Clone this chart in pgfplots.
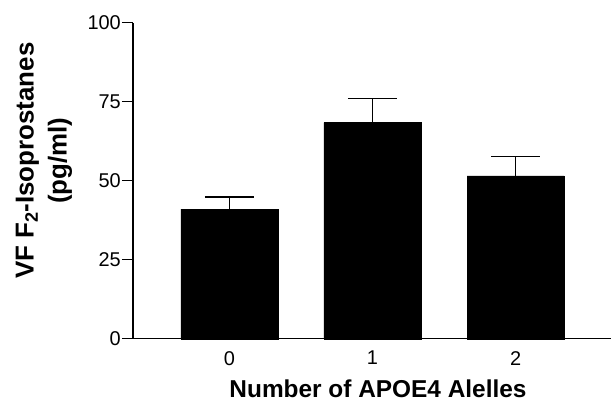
\documentclass[border=0pt]{standalone}
\usepackage{fontspec}
\setmainfont{Liberation Sans}
\usepackage{pgfplots}
\pgfplotsset{compat=1.18}
\begin{document}
\begin{tikzpicture}
\begin{axis}[
  at={(0,0)}, anchor=south west,
  scale only axis,
  width=478bp, height=316bp,
  xmin=-0.673, xmax=2.667,
  ymin=0, ymax=100,
  axis lines=left,
  axis line style={-, line width=1.3bp, black},
  ytick={0,25,50,75,100},
  xtick={0,1,2},
  tick align=outside,
  major tick length=11bp,
  x tick style={draw=none},
  y tick style={line width=1.3bp, black},
  yticklabel={\fontsize{20}{22}\selectfont\pgfmathprintnumber[assume math mode=true]{\tick}},
  xticklabel={\fontsize{20}{22}\selectfont\pgfmathprintnumber[assume math mode=true]{\tick}},
  yticklabel style={inner sep=1bp},
  xticklabel style={yshift=2bp},
  clip=false,
]
\addplot[ybar, bar width=97bp, fill=black, draw=black,
  error bars/.cd, y dir=plus, y explicit,
  error bar style={line width=1.5bp, black},
  error mark options={rotate=90, mark size=24.5bp, line width=1.5bp, black}]
  coordinates {(0,41.0) +- (0,3.8) (1,68.4) +- (0,7.6) (2,51.5) +- (0,6.2)};
\end{axis}
\node[anchor=base, font=\fontsize{24.5}{29}\selectfont\bfseries] at (245bp,-59bp) {Number of APOE4 Alelles};
\node[rotate=90, align=center, font=\fontsize{26}{33}\selectfont\bfseries] at (-89bp,178bp) {VF F\textsubscript{2}-Isoprostanes\\(pg/ml)};
\pgfresetboundingbox
\path (-133bp,-64bp) rectangle (478bp,338.7bp);
\end{tikzpicture}
\end{document}
